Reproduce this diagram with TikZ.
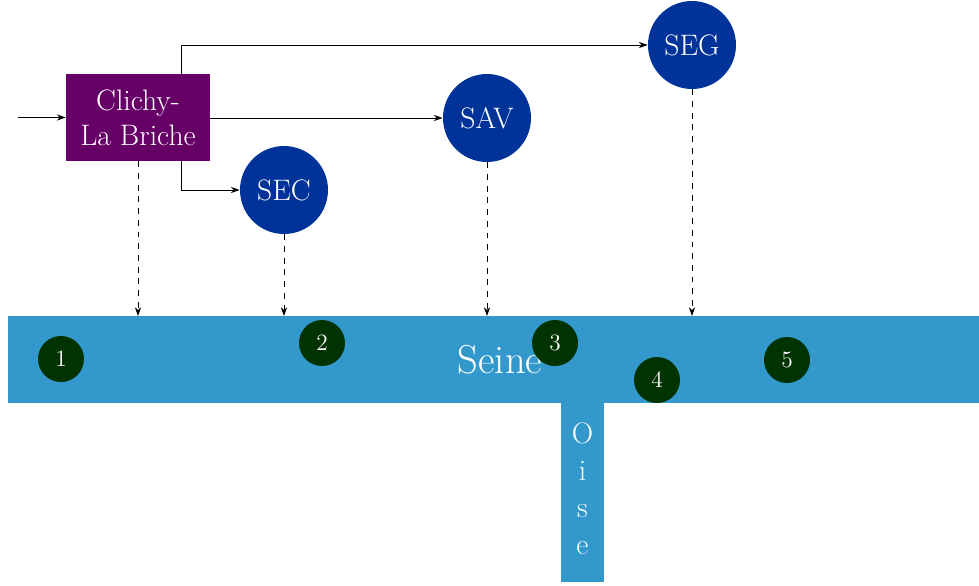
\documentclass[tikz,border=0pt]{standalone}
\usetikzlibrary{arrows.meta}
\definecolor{boxpurple}{HTML}{660066}
\definecolor{stblue}{HTML}{003399}
\definecolor{river}{HTML}{3399CC}
\definecolor{ptgreen}{HTML}{003300}
\newcommand{\midfont}{\fontsize{15.2}{18}\selectfont}
\begin{document}
\begin{tikzpicture}[x=0.5128pt,y=-0.5128pt,
  arr/.style={-{Stealth[length=4.5pt,width=3.2pt]},line width=0.5pt},
  darr/.style={arr,dashed},
  station/.style={circle,fill=stblue,text=white,minimum size=88*0.5128pt,inner sep=0pt,font=\midfont},
  pt/.style={circle,fill=ptgreen,text=white,minimum size=46*0.5128pt,inner sep=0pt,font=\large}]
\useasboundingbox (0,0) rectangle (979,585);
% rivers
\fill[river] (8,316) rectangle (979,403);
\fill[river] (561,403) rectangle (604,582);
\node[text=white,font=\huge] (seine) at (500,360) {Seine};
\node[text=white,font=\midfont,align=center] (oise) at (582.5,489) {O\\[1pt]i\\[1pt]s\\[1pt]e};
% source
\node[fill=boxpurple,text=white,font=\midfont,align=center,minimum width=144*0.5128pt,minimum height=87*0.5128pt,inner sep=0pt] (clichy) at (138,117.5) {Clichy-\\La Briche};
\coordinate (in) at (18,117.5);
\node[station] (sec) at (284,190) {SEC};
\node[station] (sav) at (487,118) {SAV};
\node[station] (seg) at (692,45) {SEG};
% targets on the river top
\coordinate (r0) at (138,316);
\coordinate (r1) at (284,316);
\coordinate (r2) at (487,316);
\coordinate (r3) at (692,316);
\coordinate (ctop) at (181,74);
\coordinate (cbot) at (181,161);
% connectors
\draw[arr] (in) -- (clichy.west);
\draw[arr] (clichy.east |- sav.west) -- (sav.west);
\draw[arr] (ctop) |- (seg.west);
\draw[arr] (cbot) |- (sec.west);
\draw[darr] (clichy.south) -- (r0);
\draw[darr] (sec.south) -- (r1);
\draw[darr] (sav.south) -- (r2);
\draw[darr] (seg.south) -- (r3);
% points
\node[pt] (p1) at (61,359) {1};
\node[pt] (p2) at (322,343) {2};
\node[pt] (p3) at (555,343) {3};
\node[pt] (p4) at (657,380) {4};
\node[pt] (p5) at (787,360) {5};
\end{tikzpicture}
\end{document}
